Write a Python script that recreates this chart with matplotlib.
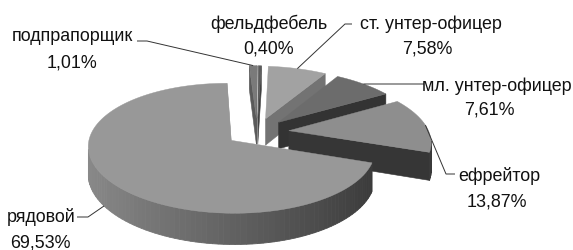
import numpy as np
import matplotlib

matplotlib.use('Agg')
import matplotlib.pyplot as plt
from matplotlib.patches import Polygon

# ============================================================
# данные
# ============================================================
ranks = ['подпрапорщик', 'фельдфебель', 'ст. унтер-офицер', 'мл. унтер-офицер', 'ефрейтор', 'рядовой']
shares = [1.01, 0.40, 7.58, 7.61, 13.87, 69.53]

top_colors = ['#7a7a7a', '#5c5c5c', '#a2a2a2', '#6c6c6c', '#8e8e8e', '#989898']
face_colors = ['#5a5a5a', '#404040', '#737373', '#333333', '#363636', '#a4a4a4']

# подписи: x имени, базовая линия имени, x процента, базовая линия процента
label_pos = {
    'подпрапорщик': (72, 41, 72, 68),
    'фельдфебель': (269, 29, 269, 53),
    'ст. унтер-офицер': (431, 29, 427, 53),
    'мл. унтер-офицер': (497, 91, 489, 115),
    'ефрейтор': (499, 181, 497, 207),
    'рядовой': (41, 222, 40, 248),
}
# начало выноски (со стороны подписи)
leader_start = {
    'подпрапорщик': [(137, 42), (147, 42)],
    'ст. унтер-офицер': [(352, 25), (345, 25)],
    'мл. унтер-офицер': [(424, 85), (416, 85)],
    'ефрейтор': [(455, 175), (446, 175)],
    'рядовой': [(77, 218), (88, 218)],
}

# ============================================================
# псевдо-3D проекция
# ============================================================
CX, CY = 257, 133
SX, SY, SZ = 140, 62, 27
P = 0.12
SHEAR = -7
EXPLODE = 0.23
CAM = np.array([0.0, -1.0 / P])


def proj(X, Y, Z):
    f = 1.0 / (1.0 + P * Y)
    return CX + SX * X * f + SHEAR * Y, CY - SY * Y * f - SZ * Z * f


def visible(n, p):
    return np.dot(n, CAM - p) > 0


def wall_color(t):
    lum = 0.38 - 0.16 * np.sin(t)
    return (lum, lum, lum)


fig = plt.figure(figsize=(5.73, 2.51), dpi=100)
ax = fig.add_axes([0, 0, 1, 1])
ax.set_xlim(0, 573)
ax.set_ylim(251, 0)
ax.axis('off')

bounds = np.radians(np.concatenate([[0], np.cumsum(shares)]) * 3.6)
slices = []
for i, name in enumerate(ranks):
    t1, t2 = bounds[i], bounds[i + 1]
    mid = (t1 + t2) / 2
    apex = EXPLODE * np.array([np.sin(mid), np.cos(mid)])
    slices.append((i, name, t1, t2, mid, apex))

# дальние секторы рисуем первыми
order = sorted(slices, key=lambda s: -s[5][1])

anchors = {}
for i, name, t1, t2, mid, apex in order:
    n = max(4, int(np.degrees(t2 - t1) / 2))
    ts = np.linspace(t1, t2, n + 1)
    ax_, ay_ = apex

    def pt(t, z):
        return proj(ax_ + np.sin(t), ay_ + np.cos(t), z)

    # радиальные грани
    for t, sign in ((t1, -1), (t2, 1)):
        nrm = sign * np.array([np.cos(t), -np.sin(t)])
        if visible(nrm, apex):
            poly = [proj(ax_, ay_, 0), pt(t, 0), pt(t, -1), proj(ax_, ay_, -1)]
            ax.add_patch(Polygon(poly, closed=True, facecolor=face_colors[i],
                                 edgecolor=face_colors[i], linewidth=0.4))

    # внешняя стенка
    for a, b in zip(ts[:-1], ts[1:]):
        m = (a + b) / 2
        p = apex + np.array([np.sin(m), np.cos(m)])
        if visible(np.array([np.sin(m), np.cos(m)]), p):
            c = wall_color(m)
            poly = [pt(a, 0), pt(b, 0), pt(b, -1), pt(a, -1)]
            ax.add_patch(Polygon(poly, closed=True, facecolor=c, edgecolor=c, linewidth=0.6))

    # верх
    top = [proj(ax_, ay_, 0)] + [pt(t, 0) for t in ts]
    ax.add_patch(Polygon(top, closed=True, facecolor=top_colors[i],
                         edgecolor=top_colors[i], linewidth=0.3))

    if name == 'рядовой':
        anchors[name] = pt(np.radians(238), -1)
    else:
        anchors[name] = pt(mid, 0)

# ============================================================
# подписи и выноски
# ============================================================
font = dict(family=['Liberation Sans', 'DejaVu Sans'], fontsize=12.9, color='#111111')
for name, share in zip(ranks, shares):
    x1, yb1, x2, yb2 = label_pos[name]
    ax.text(x1, yb1, name, ha='center', va='baseline', **font)
    ax.text(x2, yb2, f'{share:.2f}%'.replace('.', ','), ha='center', va='baseline', **font)
    if name in leader_start:
        pts = leader_start[name] + [anchors[name]]
        xs, ys = zip(*pts)
        ax.plot(xs, ys, color='#333333', linewidth=0.7, solid_capstyle='butt')

plt.savefig('out.png', dpi=100, facecolor='white')
plt.close()
